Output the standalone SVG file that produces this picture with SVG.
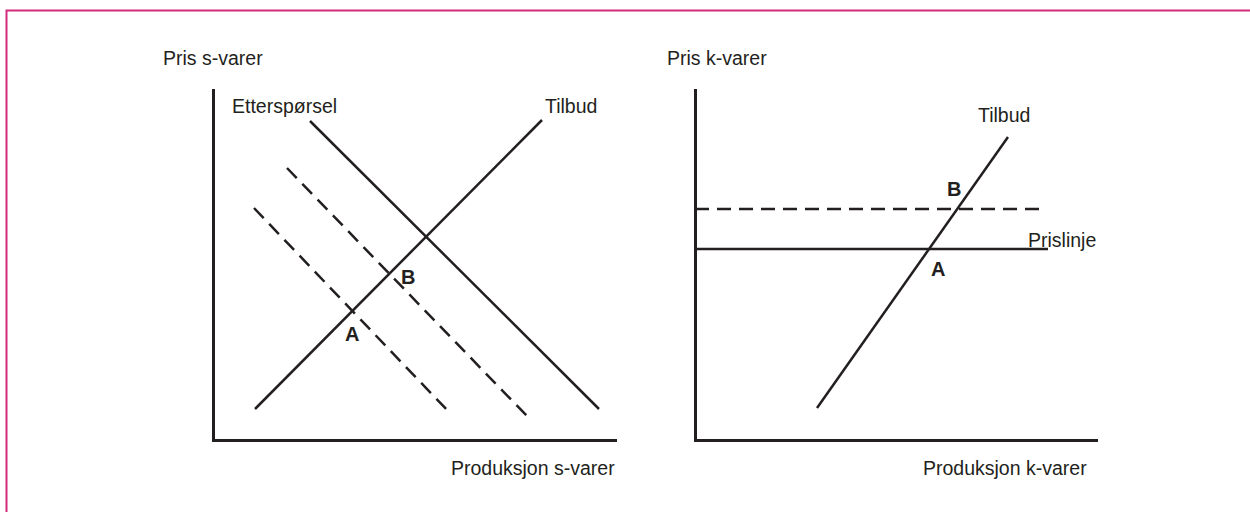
<svg xmlns="http://www.w3.org/2000/svg" width="1250" height="512" viewBox="0 0 1250 512">
<style>
.t{font-family:"Liberation Sans",Arial,sans-serif;font-size:19.5px;fill:#231f20}
.b{font-family:"Liberation Sans",Arial,sans-serif;font-size:20px;font-weight:bold;fill:#231f20}
.ax{stroke:#231f20;stroke-width:3;fill:none}
.ln{stroke:#231f20;stroke-width:2.5;fill:none}
.ds{stroke:#231f20;stroke-width:2.5;fill:none;stroke-dasharray:14 8}
</style>
<rect width="1250" height="512" fill="#ffffff"/>
<g id="frame">
<path d="M6.5 512 V10.5 H1250" stroke="#d42a7d" stroke-width="2" fill="none"/>
</g>
<g id="chart-s">
<g id="axes-s">
<path class="ax" d="M213.5 89 V440.5 H617"/>
<text class="t" x="163" y="65">Pris s-varer</text>
<text class="t" x="451" y="475">Produksjon s-varer</text>
</g>
<g id="demand-s">
<text class="t" x="232" y="113">Etterspørsel</text>
</g>
<g id="supply-s">
<text class="t" x="545" y="113">Tilbud</text>
</g>
<g id="point-A-s"><text class="b" x="345" y="341">A</text></g>
<g id="point-B-s"><text class="b" x="401" y="284">B</text></g>
</g>
<g id="chart-k">
<g id="axes-k">
<path class="ax" d="M695.5 89 V440.5 H1098"/>
<text class="t" x="667" y="65">Pris k-varer</text>
<text class="t" x="923" y="475">Produksjon k-varer</text>
</g>
<g id="supply-k"><text class="t" x="978" y="122">Tilbud</text></g>
<g id="priceline-k"><text class="t" x="1028" y="247">Prislinje</text></g>
<g id="point-A-k"><text class="b" x="931" y="276">A</text></g>
<g id="point-B-k"><text class="b" x="947" y="196">B</text></g>
</g>
<g id="connectors">
<line class="ln" x1="310" y1="121" x2="599" y2="409"/>
<line class="ln" x1="255" y1="409" x2="542" y2="120"/>
<line class="ds" x1="287" y1="168" x2="527" y2="416"/>
<line class="ds" x1="254" y1="208" x2="448" y2="411"/>
<line class="ln" x1="817" y1="408" x2="1008" y2="137"/>
<line class="ln" x1="695" y1="249" x2="1048" y2="249"/>
<line class="ds" x1="695" y1="209" x2="1043" y2="209"/>
</g>
</svg>
